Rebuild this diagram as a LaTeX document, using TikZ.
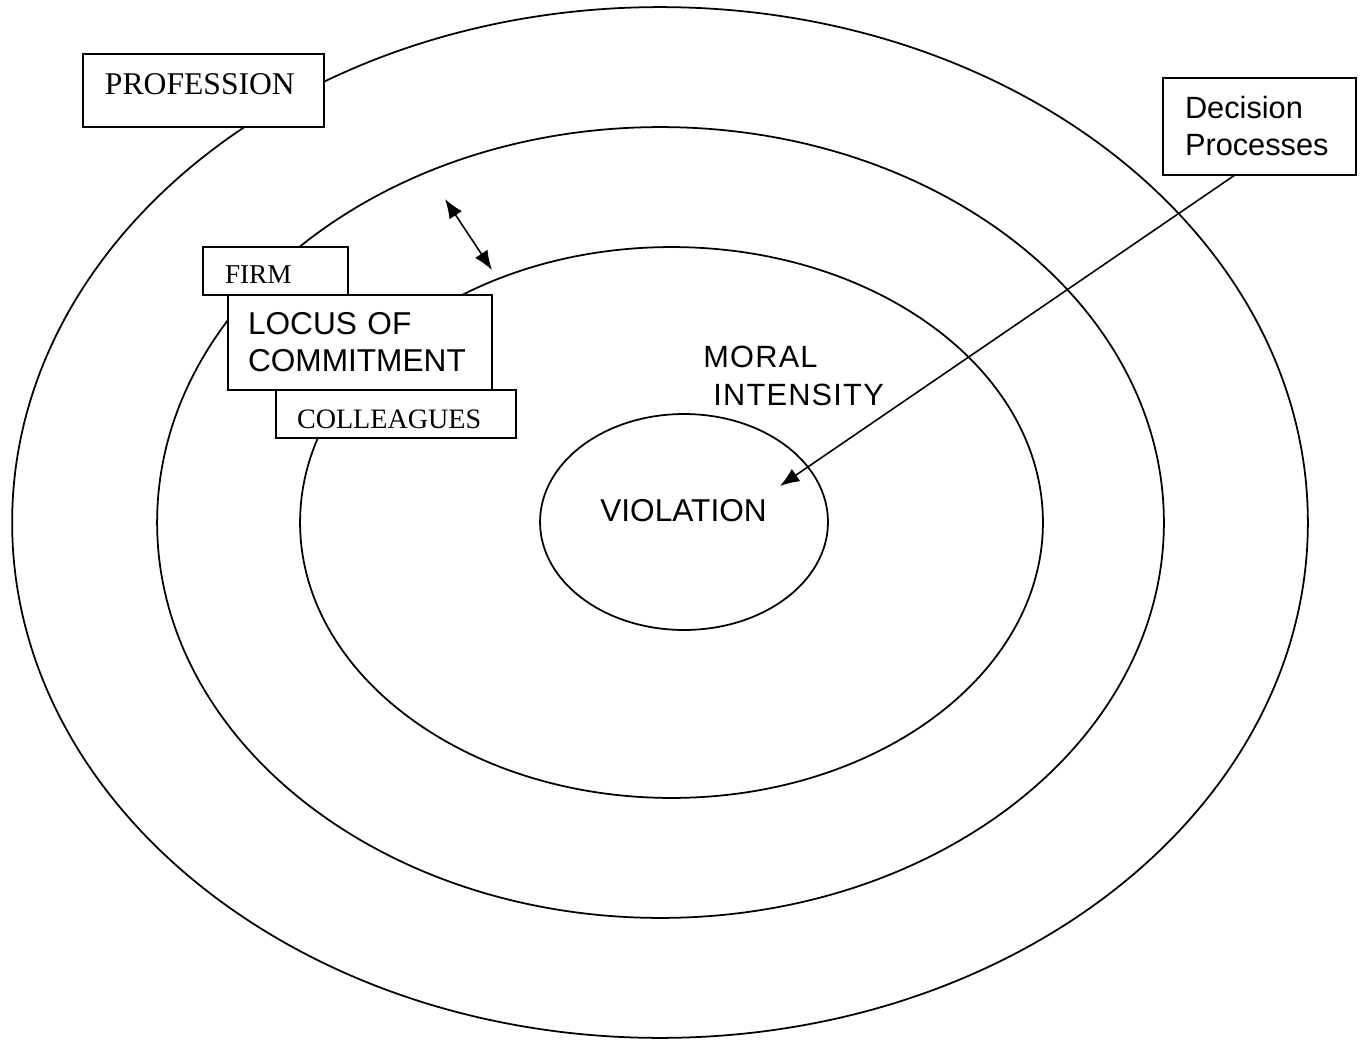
\documentclass[tikz,border=0pt]{standalone}
\usepackage{fontspec}
\setmainfont{Liberation Serif}
\newfontfamily\arialfont{Liberation Sans}
\newfontfamily\spacedfont[LetterSpace=4]{Liberation Sans}
\usetikzlibrary{arrows.meta}

\tikzset{
  ring/.style = {line width = 1pt},
  labelbox/.style = {draw, fill = white, line width = 1.1pt, anchor = north west,
                     inner ysep = 0pt, outer sep = 0pt, align = left},
  link/.style = {line width = 0.9pt, -{Latex[length = 11pt, width = 8.5pt]}}
}

\begin{document}
\begin{tikzpicture}[x = 0.02cm, y = -0.02cm]
\useasboundingbox (0,0) rectangle (1364,1040);

% rings
\draw [ring] (660,522.5) ellipse (12.96cm and 10.31cm);
\draw [ring] (660.5,522.5) ellipse (10.07cm and 7.91cm);
\draw [ring] (671.5,522.5) ellipse (7.43cm and 5.51cm);
\draw [ring] (684,522) ellipse (2.88cm and 2.16cm);

% boxes
\node [labelbox, inner xsep = 0.44cm, text width = 3.94cm, text height = 0.82cm, text depth = 0.64cm,
       font = \fontsize{18pt}{21pt}\selectfont] (profession) at (83,54) {PROFESSION};
\node [labelbox, inner xsep = 0.44cm, text width = 2.98cm, text height = 0.82cm, text depth = 1.12cm,
       font = \arialfont\fontsize{17.5pt}{20.5pt}\selectfont] (decision) at (1163,78) {Decision\\Processes};
\node [labelbox, inner xsep = 0.44cm, text width = 2.02cm, text height = 0.74cm, text depth = 0.22cm,
       font = \fontsize{15.5pt}{18pt}\selectfont] (firm) at (203,247) {FIRM};
\node [labelbox, inner xsep = 0.42cm, text width = 3.96cm, text height = 0.78cm, text depth = 0.18cm,
       font = \fontsize{16pt}{19pt}\selectfont] (colleagues) at (276,390) {COLLEAGUES};
\node [labelbox, inner xsep = 0.40cm, text width = 4.48cm, text height = 0.80cm, text depth = 1.10cm,
       font = \arialfont\fontsize{18pt}{21pt}\selectfont] (locus) at (228,295) {LOCUS OF\\COMMITMENT};

% free labels
\node [anchor = base west, inner sep = 0pt, font = \spacedfont\fontsize{17.5pt}{20pt}\selectfont] (moral) at (703,367) {MORAL};
\node [anchor = base west, inner sep = 0pt, font = \spacedfont\fontsize{17.5pt}{20pt}\selectfont] (intensity) at (713,405) {INTENSITY};
\node [anchor = base west, inner sep = 0pt, font = \arialfont\fontsize{18pt}{21pt}\selectfont] (violation) at (600,521) {VIOLATION};

% arrows
\coordinate (dptip) at (780,486);
\coordinate (gapup) at (445,199);
\coordinate (gapdown) at (492,270);
\draw [link] ([xshift = -0.49cm]decision.south) -- (dptip);
\draw [link, {Latex[length = 11pt, width = 8.5pt]}-{Latex[length = 11pt, width = 8.5pt]}] (gapup) -- (gapdown);
\end{tikzpicture}
\end{document}
